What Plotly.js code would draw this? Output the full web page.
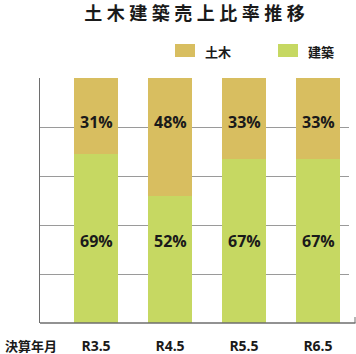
<!DOCTYPE html>
<html>
<head>
<meta charset="utf-8">
<script src="https://cdn.plot.ly/plotly-3.0.1.min.js"></script>
<style>html,body{margin:0;padding:0;background:#fff;}#chart{width:356px;height:354px;}</style>
</head>
<body>
<div id="chart"></div>
<script>
const categories = ['R3.5', 'R4.5', 'R5.5', 'R6.5'];
const kenchiku = [69, 52, 67, 67];
const doboku = [31, 48, 33, 33];
const seriesNames = ['土木', '建築'];
const titleText = '土木建築売上比率推移';
const xAxisLabel = '決算年月';

const colDoboku = '#D8BE60';
const colKenchiku = '#C6D862';
const sp = '\u2005';

const traces = [
  {type: 'bar', x: categories, y: kenchiku, name: seriesNames[1], marker: {color: colKenchiku}, showlegend: false, hoverinfo: 'none'},
  {type: 'bar', x: categories, y: doboku, name: seriesNames[0], marker: {color: colDoboku}, showlegend: false, hoverinfo: 'none'}
];

const W = 356, H = 354, L = 40, R = 7, T = 78, B = 31;
const pw = W - L - R, ph = H - T - B;
function px(x) { return (x - L) / pw; }
function py(y) { return (H - B - y) / ph; }

const labelFont = {family: 'Open Sans, sans-serif', size: 16, color: '#1a1a1a', weight: 700};
const annotations = [];
categories.forEach((c, i) => {
  annotations.push({x: c, y: 82, xref: 'x', yref: 'y', text: '<b>' + doboku[i] + '%</b>', showarrow: false, font: labelFont});
  annotations.push({x: c, y: 33.5, xref: 'x', yref: 'y', text: '<b>' + kenchiku[i] + '%</b>', showarrow: false, font: labelFont});
});
annotations.push({x: px(3), y: py(345), xref: 'paper', yref: 'paper', xanchor: 'left', yanchor: 'middle', text: '<b>' + xAxisLabel + '</b>', showarrow: false,
  font: {family: 'Noto Sans CJK JP, sans-serif', size: 13, color: '#1a1a1a'}});
const legFont = {family: 'Noto Sans CJK JP, sans-serif', size: 13, color: '#1a1a1a'};
annotations.push({x: px(203), y: py(51), xref: 'paper', yref: 'paper', xanchor: 'left', yanchor: 'middle', showarrow: false, text: '<b>' + seriesNames[0] + '</b>', font: legFont});
annotations.push({x: px(306), y: py(51), xref: 'paper', yref: 'paper', xanchor: 'left', yanchor: 'middle', showarrow: false, text: '<b>' + seriesNames[1] + '</b>', font: legFont});

const shapes = [
  {type: 'rect', xref: 'paper', yref: 'paper', x0: px(175), x1: px(195), y0: py(57), y1: py(44), fillcolor: colDoboku, line: {width: 0}},
  {type: 'rect', xref: 'paper', yref: 'paper', x0: px(278), x1: px(298), y0: py(57), y1: py(44), fillcolor: colKenchiku, line: {width: 0}},
  {type: 'line', xref: 'paper', yref: 'paper', x0: 0, x1: px(355.5), y0: 0, y1: 0, line: {color: '#6e6e6e', width: 1.5}},
  {type: 'line', xref: 'paper', yref: 'paper', x0: px(355), x1: px(355), y0: 0, y1: py(317), line: {color: '#6e6e6e', width: 1}}
];

const layout = {
  width: W, height: H,
  margin: {l: L, r: R, t: T, b: B, pad: 0},
  paper_bgcolor: '#fff', plot_bgcolor: '#fff',
  barmode: 'stack', bargap: 0.405,
  title: {text: '<b>' + titleText.split('').join(sp) + '</b>', x: 0.5, xanchor: 'center', xref: 'paper', y: 1 - 13.5 / H, yanchor: 'middle', yref: 'container',
    font: {family: 'Noto Sans CJK JP, sans-serif', size: 18, color: '#1a1a1a'}},
  xaxis: {type: 'category', range: [-0.757, 3.419], showgrid: false, zeroline: false, showline: false, ticks: '',
    tickfont: {family: 'Open Sans, sans-serif', size: 14, color: '#1a1a1a', weight: 700}, ticklabelstandoff: 13, fixedrange: true},
  yaxis: {range: [0, 100], tickvals: [20, 40, 60, 80], showticklabels: false, showgrid: true, gridcolor: '#9a9a9a', gridwidth: 1,
    zeroline: false, showline: true, linecolor: '#6e6e6e', linewidth: 1.5, ticks: '', fixedrange: true},
  annotations: annotations,
  shapes: shapes,
  showlegend: false
};

Plotly.newPlot('chart', traces, layout, {displayModeBar: false, staticPlot: true});
</script>
</body>
</html>
